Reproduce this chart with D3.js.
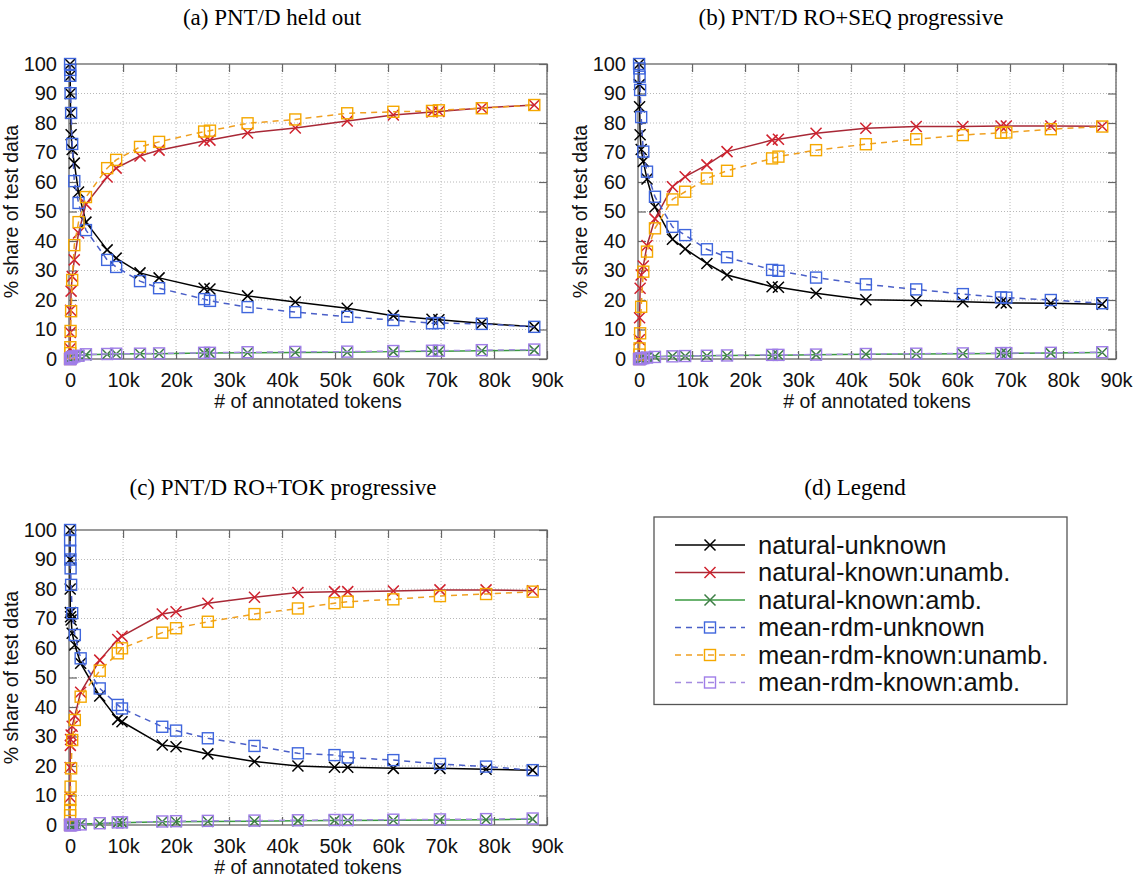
<!DOCTYPE html>
<html><head><meta charset="utf-8">
<script src="https://cdn.jsdelivr.net/npm/d3@7"></script>
<style>body{margin:0;background:#fff} svg{display:block}</style>
</head><body><svg id="c" width="1140" height="882"></svg>
<script>
// ---------- data ----------
const seriesNames = ["natural-unknown","natural-known:unamb.","natural-known:amb.","mean-rdm-unknown","mean-rdm-known:unamb.","mean-rdm-known:amb."];
const seriesKinds = ["cross","cross","cross","square","square","square"];
const panelTitles = ["(a) PNT/D held out","(b) PNT/D RO+SEQ progressive","(c) PNT/D RO+TOK progressive","(d) Legend"];
const xTicks = [0,10000,20000,30000,40000,50000,60000,70000,80000,90000];
const xTickLabels = ["0","10k","20k","30k","40k","50k","60k","70k","80k","90k"];
const yTicks = [0,10,20,30,40,50,60,70,80,90,100];
const xLabel = "# of annotated tokens";
const yLabel = "% share of test data";

// (a) held out
const xA = [0,20,50,100,200,400,800,1600,3000,7000,8700,13200,16800,25300,26400,33500,42500,52300,61000,68300,69600,77700,87600];
const aNatUnk   = [100,96,90,83.4,76,71,66.4,56.6,46.4,37,34.2,29.2,27.5,24,23.7,21.4,19.3,17.2,14.7,13.5,13.3,12.1,10.9];
const aNatUnamb = [0,3.5,9,16.5,23,28,33.6,42.7,52.5,61.7,64.7,68.8,70.8,73.9,74.2,76.6,78.3,80.7,82.7,83.7,83.9,85.1,86.1];
const aNatAmb   = [0,0,0,0.1,0.5,0.8,1,1.2,1.4,1.6,1.7,1.8,1.8,2,2,2.1,2.2,2.3,2.5,2.6,2.6,2.8,3.0];
const aRdmUnk   = [100,98,96,90.1,83.4,72.9,60.3,52.9,43.7,33.6,31.2,26.4,24,20.3,19.7,17.6,15.9,14.3,13.2,12.1,12.2,11.9,10.9];
const aRdmUnamb = [0,2,4,9.5,16.2,26.8,38.6,46.4,54.9,64.7,67.5,71.9,73.6,77.1,77.4,79.9,81.2,83.3,83.8,84.1,84.3,85,86.1];
const aRdmAmb   = [0,0,0,0.2,0.4,0.6,0.9,1.1,1.6,1.7,1.8,1.8,1.9,2.1,2.1,2.3,2.4,2.5,2.7,2.8,2.8,3.0,3.2];

// (b) RO+SEQ progressive
const xB = [0,50,100,200,400,800,1500,3000,6300,8700,12800,16600,25100,26300,33400,42800,52300,61100,68300,69300,77700,87400];
const bNatUnk   = [100,93,85.5,76,71,67,61,51.5,40.6,37.3,32.4,28.5,24.5,24.3,22.3,20.1,19.8,19.4,19.1,19.0,18.9,18.6];
const bNatUnamb = [0,6.5,14,24,28.5,31.5,38.5,47.5,58.4,61.8,65.8,70.3,74.2,74.5,76.5,78.2,78.8,78.8,79,79,79,78.9];
const bNatAmb   = [0,0,0,0,0.2,0.4,0.6,0.8,1.0,1.0,1.1,1.2,1.3,1.3,1.4,1.6,1.7,1.8,1.9,1.9,2.0,2.2];
const bRdmUnk   = [100,98.5,95.7,91.2,82,70.3,63.5,55,44.8,42,37.2,34.5,30.2,29.9,27.6,25.3,23.6,22,20.9,20.8,20,18.9];
const bRdmUnamb = [0,1.5,3.6,8.7,17.7,29.6,36.4,44.3,54.1,56.7,61.2,63.8,68,68.6,70.8,72.8,74.5,75.9,76.7,76.8,77.9,78.8];
const bRdmAmb   = [0,0,0,0,0.2,0.3,0.5,0.7,0.9,1.0,1.1,1.2,1.4,1.4,1.5,1.7,1.8,1.9,2.0,2.0,2.1,2.3];

// (c) RO+TOK progressive
const xC = [0,10,20,50,100,200,400,900,2000,5600,9000,9800,17400,20000,26000,34800,43000,49900,52400,61000,69800,78500,87300];
const cNatUnk   = [100,90,80,72,70.6,69.5,65,61,54.8,43.7,35.8,35,27.1,26.5,24.1,21.5,20,19.6,19.6,19.2,19.2,18.9,18.6];
const cNatUnamb = [0,9.5,19.5,27,29,30.5,33.5,37,45,55.9,62.9,64,71.5,72.3,75.2,77.2,78.8,79.1,79.1,79.3,79.7,79.7,79.4];
const cNatAmb   = [0,0,0,0,0,0,0.1,0.2,0.3,0.5,0.8,0.8,1.1,1.1,1.2,1.3,1.4,1.5,1.5,1.6,1.7,1.8,2.0];
const cRdmUnk   = [100,96.5,93,90,87,81.4,71.8,64.4,56.5,46.3,40.7,39.5,33.3,32,29.4,26.8,24.3,23.7,22.9,22,20.7,19.8,18.6];
const cRdmUnamb = [0,3.3,5.1,8.5,13,19.2,28.8,35.6,43.5,52.3,58.2,59.9,65.2,66.7,68.9,71.5,73.4,75.2,75.7,76.5,77.6,78.3,79.1];
const cRdmAmb   = [0,0,0,0,0,0,0,0.1,0.2,0.6,0.9,0.9,1.2,1.3,1.4,1.5,1.6,1.7,1.7,1.8,1.9,2.0,2.2];

// ---------- styles ----------
const lineColors   = ["#000000","#a82836","#3a9a40","#4a5fc8","#f0a020","#a58be0"];
const markerColors = ["#000000","#d0222e","#3d7d45","#3f66dd","#f5a800","#a07ee8"];
const dashed = [false,false,false,true,true,true];

const svg = d3.select("#c");
const FONT = "'Liberation Sans', Arial, sans-serif";
const SERIF = "'Liberation Serif', 'Times New Roman', serif";

const panels = [
  {x: xA, ys:[aNatUnk,aNatUnamb,aNatAmb,aRdmUnk,aRdmUnamb,aRdmAmb], L:69,  R:547,  T:64,  B:359, title:panelTitles[0], tx:272, ty:25},
  {x: xB, ys:[bNatUnk,bNatUnamb,bNatAmb,bRdmUnk,bRdmUnamb,bRdmAmb], L:638, R:1116, T:64,  B:359, title:panelTitles[1], tx:851, ty:25},
  {x: xC, ys:[cNatUnk,cNatUnamb,cNatAmb,cRdmUnk,cRdmUnamb,cRdmAmb], L:69,  R:547,  T:530, B:825, title:panelTitles[2], tx:283, ty:495},
];

function drawMarker(g, kind, color, x, y){
  const s=5.5;
  if(kind==="cross"){
    g.append("path").attr("d",`M${x-s},${y-s}L${x+s},${y+s}M${x-s},${y+s}L${x+s},${y-s}`)
      .attr("stroke",color).attr("stroke-width",1.5).attr("fill","none");
  } else {
    g.append("rect").attr("x",x-s).attr("y",y-s).attr("width",2*s).attr("height",2*s)
      .attr("stroke",color).attr("stroke-width",1.4).attr("fill","none");
  }
}

panels.forEach(p=>{
  const xs = d3.scaleLinear().domain([-200,90000]).range([p.L,p.R]);
  const ys = d3.scaleLinear().domain([0,100]).range([p.B,p.T]);
  const g = svg.append("g");

  // grid
  g.append("g").selectAll("line").data(xTicks.slice(1)).join("line")
    .attr("x1",d=>xs(d)).attr("x2",d=>xs(d)).attr("y1",p.T).attr("y2",p.B)
    .attr("stroke","#b8b8b8").attr("stroke-width",1).attr("stroke-dasharray","1,2");
  g.append("g").selectAll("line").data(yTicks.slice(1,-1)).join("line")
    .attr("x1",p.L).attr("x2",p.R).attr("y1",d=>ys(d)).attr("y2",d=>ys(d))
    .attr("stroke","#b8b8b8").attr("stroke-width",1).attr("stroke-dasharray","1,2");

  // axes (ticks inward, mirrored)
  const tl = 8;
  const ax = [
    d3.axisBottom(xs).tickValues(xTicks).tickFormat((d,i)=>xTickLabels[i]).tickSizeInner(-tl).tickSizeOuter(0).tickPadding(14),
    d3.axisLeft(ys).tickValues(yTicks).tickSizeInner(-tl).tickSizeOuter(0).tickPadding(12),
    d3.axisTop(xs).tickValues(xTicks).tickFormat("").tickSizeInner(-tl).tickSizeOuter(0),
    d3.axisRight(ys).tickValues(yTicks).tickFormat("").tickSizeInner(-tl).tickSizeOuter(0)
  ];
  const pos = [`translate(0,${p.B})`,`translate(${p.L},0)`,`translate(0,${p.T})`,`translate(${p.R},0)`];
  ax.forEach((a,i)=>{
    const ag = g.append("g").attr("transform",pos[i]).call(a);
    ag.select(".domain").remove();
    ag.selectAll(".tick line").attr("stroke","#666").attr("stroke-width",1.2);
    ag.selectAll("text").attr("font-family",FONT).attr("font-size",20).attr("fill","#111");
  });

  // border
  g.append("rect").attr("x",p.L).attr("y",p.T).attr("width",p.R-p.L).attr("height",p.B-p.T)
    .attr("fill","none").attr("stroke","#666").attr("stroke-width",1.3);

  // labels
  g.append("text").attr("x",(p.L+p.R)/2).attr("y",p.B+49).attr("text-anchor","middle")
    .attr("font-family",FONT).attr("font-size",19.5).attr("fill","#111").text(xLabel);
  g.append("text").attr("transform",`translate(${p.L-51},${(p.T+p.B)/2}) rotate(-90)`)
    .attr("text-anchor","middle").attr("font-family",FONT).attr("font-size",19.5).attr("fill","#111").text(yLabel);
  svg.append("text").attr("x",p.tx).attr("y",p.ty).attr("text-anchor","middle")
    .attr("font-family",SERIF).attr("font-size",23).attr("fill","#000").text(p.title);

  // series
  const clipId = "clip"+p.L+"_"+p.T;
  g.append("clipPath").attr("id",clipId).append("rect")
    .attr("x",p.L-8).attr("y",p.T-8).attr("width",p.R-p.L+16).attr("height",p.B-p.T+16);
  const sg = g.append("g").attr("clip-path",`url(#${clipId})`);
  p.ys.forEach((vals,si)=>{
    const pts = vals.map((v,i)=>[p.x[i],v]);
    const line = d3.line().x(d=>xs(d[0])).y(d=>ys(d[1]));
    sg.append("path").attr("d",line(pts)).attr("fill","none")
      .attr("stroke",lineColors[si]).attr("stroke-width",1.5)
      .attr("stroke-dasharray",dashed[si]?"6,5":null);
    const mg = sg.append("g");
    pts.forEach(d=>drawMarker(mg,seriesKinds[si],markerColors[si],xs(d[0]),ys(d[1])));
  });
});

// legend panel (d)
svg.append("text").attr("x",855).attr("y",495).attr("text-anchor","middle")
  .attr("font-family",SERIF).attr("font-size",23).attr("fill","#000").text(panelTitles[3]);
const lg = svg.append("g");
const rowH = 27.5, row0 = 545;
lg.append("rect").attr("x",654).attr("y",517).attr("width",413).attr("height",row0-517+5*rowH+22)
  .attr("fill","#fff").attr("stroke","#555").attr("stroke-width",1.3);
seriesNames.forEach((nm,i)=>{
  const y = row0 + i*rowH;
  lg.append("line").attr("x1",675).attr("x2",745).attr("y1",y).attr("y2",y)
    .attr("stroke",lineColors[i]).attr("stroke-width",1.6).attr("stroke-dasharray",dashed[i]?"6,5":null);
  drawMarker(lg,seriesKinds[i],markerColors[i],710,y);
  lg.append("text").attr("x",758).attr("y",y).attr("dy","0.35em")
    .attr("font-family",FONT).attr("font-size",25.5).attr("fill","#111").text(nm);
});
</script></body></html>
